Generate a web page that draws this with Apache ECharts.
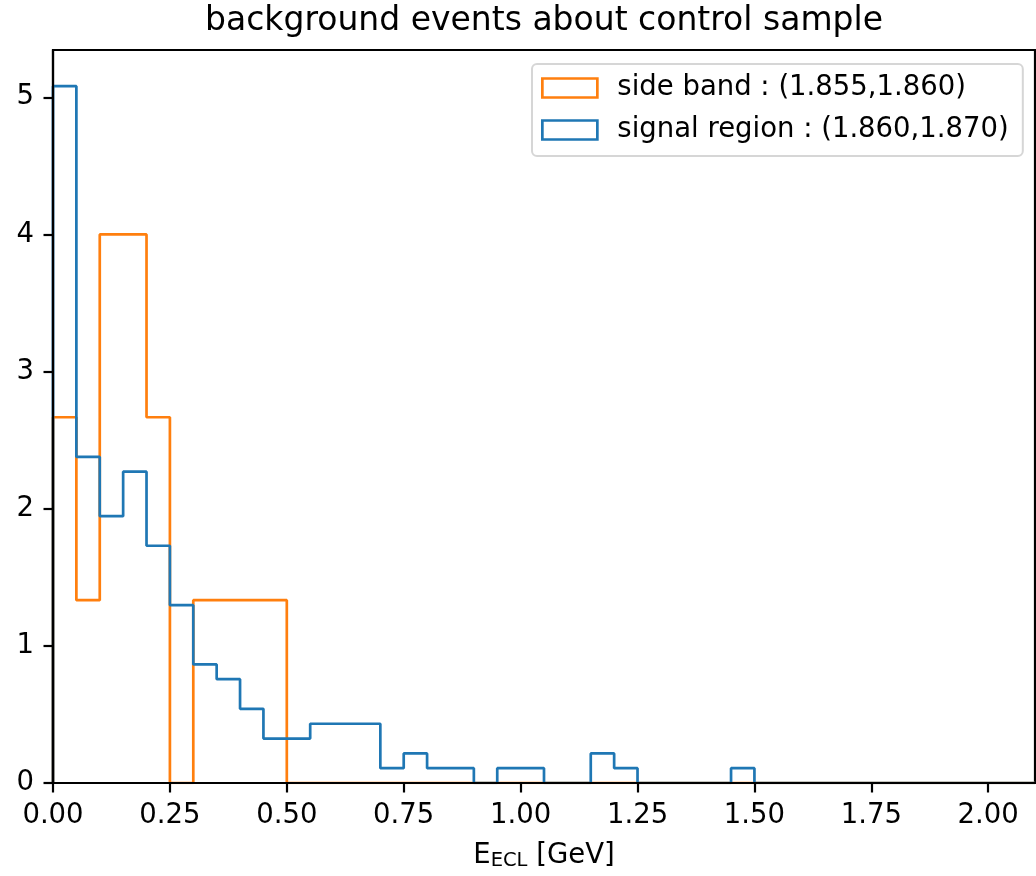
<!DOCTYPE html>
<html><head><meta charset="utf-8">
<script src="https://cdn.jsdelivr.net/npm/echarts@6/dist/echarts.min.js"></script>
<style>html,body{margin:0;padding:0;background:#fff}#c{width:1036px;height:876px}</style>
</head><body><div id="c"></div>
<script>
// ---- data ----
const chartTitle = 'background events about control sample';
const seriesNames = ['side band : (1.855,1.860)', 'signal region : (1.860,1.870)'];
const seriesColors = ['#ff7f0e', '#1f77b4'];
const binEdges = [0.00,0.05,0.10,0.15,0.20,0.25,0.30,0.35,0.40,0.45,
                  0.50,0.55,0.60,0.65,0.70,0.75,0.80,0.85,0.90,0.95,
                  1.00,1.05,1.10,1.15,1.20,1.25,1.30,1.35,1.40,1.45,
                  1.50,1.55,1.60,1.65,1.70,1.75,1.80,1.85,1.90,1.95,
                  2.00,2.05,2.10];
const sideBand = [2.667,1.333,4.000,4.000,2.667,0,1.333,1.333,1.333,1.333,
                  0,0,0,0,0,0,0,0,0,0,
                  0,0,0,0,0,0,0,0,0,0,
                  0,0,0,0,0,0,0,0,0,0,
                  0,0];
const signalRegion = [5.081,2.378,1.946,2.270,1.730,1.297,0.865,0.757,0.541,0.324,
                      0.324,0.432,0.432,0.432,0.108,0.216,0.108,0.108,0,0.108,
                      0.108,0,0,0.216,0.108,0,0,0,0,0.108,
                      0,0,0,0,0,0,0,0,0,0,
                      0,0];
const xTicks = [0,0.25,0.5,0.75,1.0,1.25,1.5,1.75,2.0];
const yTicks = [0,1,2,3,4,5];
const xRange = [0, 2.1];
const yRange = [0, 5.345];

// ---- build step outlines from bins ----
function stepOutline(edges, heights) {
  const pts = [[edges[0], 0]];
  for (let i = 0; i < heights.length; i++) pts.push([edges[i], heights[i]]);
  const n = heights.length;
  pts.push([edges[n], heights[n - 1]]);
  pts.push([edges[n], 0]);
  return pts;
}

const FONT = 'DejaVu Sans';
const chart = echarts.init(document.getElementById('c'), null, {renderer: 'canvas'});
const lineSeries = [sideBand, signalRegion].map((h, i) => ({
  name: seriesNames[i],
  type: 'line',
  step: 'end',
  symbol: 'none',
  data: stepOutline(binEdges, h),
  lineStyle: {color: seriesColors[i], width: 2.7},
  itemStyle: {color: seriesColors[i]},
  z: 2,
  silent: true
}));

chart.setOption({
  animation: false,
  backgroundColor: '#fff',
  title: {
    text: chartTitle,
    left: 544,
    textAlign: 'center',
    top: 0,
    padding: [5, 0, 0, 0],
    textStyle: {fontFamily: FONT, fontSize: 33, fontWeight: 'normal', color: '#000'}
  },
  grid: {
    left: 53, right: 1, top: 50, bottom: 92,
    show: true, borderColor: '#000', borderWidth: 2.2, backgroundColor: 'transparent'
  },
  legend: {
    orient: 'vertical',
    left: 532, top: 64,
    padding: [10, 14, 12, 9],
    itemWidth: 55, itemHeight: 19, itemGap: 14,
    selectedMode: false,
    backgroundColor: 'rgba(255,255,255,0.8)',
    borderColor: '#d6d6d6', borderWidth: 2, borderRadius: 5,
    textStyle: {fontFamily: FONT, fontSize: 27.5, color: '#000', lineHeight: 27, padding: [0, 0, 0, 15]},
    data: seriesNames.map((n, i) => ({
      name: n, icon: 'rect',
      itemStyle: {color: 'rgba(255,255,255,0)', borderColor: seriesColors[i], borderWidth: 2.7}
    }))
  },
  xAxis: {
    type: 'value', min: xRange[0], max: xRange[1],
    z: 3,
    name: '{m|E}{s|ECL}{m| [GeV]}',
    nameLocation: 'middle', nameGap: 58,
    nameTextStyle: {
      rich: {
        m: {fontFamily: FONT, fontSize: 27.5, color: '#000', lineHeight: 30},
        s: {fontFamily: FONT, fontSize: 19.5, color: '#000', lineHeight: 15, verticalAlign: 'bottom'}
      }
    },
    axisLine: {show: true, onZero: false, lineStyle: {color: '#000', width: 2.2}},
    axisTick: {show: true, inside: false, length: 9.5, lineStyle: {color: '#000', width: 2.2}, customValues: xTicks},
    axisLabel: {show: true, margin: 19, fontFamily: FONT, fontSize: 27.5, color: '#000',
      customValues: xTicks, formatter: v => v.toFixed(2)},
    splitLine: {show: false}
  },
  yAxis: {
    type: 'value', min: yRange[0], max: yRange[1],
    z: 3,
    axisLine: {show: true, onZero: false, lineStyle: {color: '#000', width: 2.2}},
    axisTick: {show: true, inside: false, length: 9.5, lineStyle: {color: '#000', width: 2.2}, customValues: yTicks},
    axisLabel: {show: true, margin: 19, fontFamily: FONT, fontSize: 27.5, color: '#000',
      customValues: yTicks, formatter: v => String(v)},
    splitLine: {show: false}
  },
  series: lineSeries
});
</script>
</body></html>
